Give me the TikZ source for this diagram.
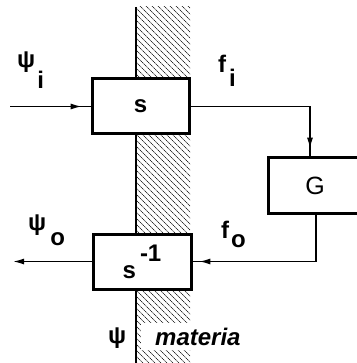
\documentclass[tikz,border=0pt]{standalone}
\usepackage{fontspec}
\setmainfont{Liberation Sans}
\usetikzlibrary{arrows.meta,decorations.markings,calc}
\begin{document}
\begin{tikzpicture}[x=1pt,y=-1pt,
  blk/.style={draw, line width=3pt, fill=white, minimum height=55pt, inner sep=0pt,
    font=\fontsize{24}{28}\selectfont\bfseries},
  wire/.style={line width=1.4pt},
  lbl/.style={anchor=base west, inner sep=0pt, font=\fontsize{24}{28}\selectfont\bfseries},
  hatchline/.style={line width=0.6pt, dash pattern=on 1.4pt off 0.6pt},
  tipstyle/.style={-{Latex[length=11pt,width=6pt]}},
  midarrow/.style={postaction={decorate}, decoration={markings,
    mark=at position #1 with {\arrow{Latex[length=11pt,width=6pt]}}}}
]
\useasboundingbox (0,0) rectangle (356,363);
% hatched wall (matter)
\begin{scope}
  \clip (136,7) rectangle (190,363);
  \foreach \k in {-400,-394,...,200} \draw[hatchline] (\k,0) -- ++(400,400);
\end{scope}
\draw[line width=1.5pt] (136,7) -- (136,363);
% blocks
\node[blk, minimum width=97pt] (S) at (140.5,106.5) {\raisebox{-2pt}{s}};
\node[blk, minimum width=98pt] (Si) at (142,261.5) {s\hspace{4pt}\raisebox{17pt}{-1}};
\node[blk, minimum width=94pt, font=\fontsize{25}{28}\selectfont] (G) at (315,185.5) {G};
% labels
\node[lbl] (psii) at (17,68) {ψ\hspace{2pt}\raisebox{-21pt}{i}};
\node[lbl] (fi) at (218,73) {f\hspace{3pt}\raisebox{-14pt}{i}};
\node[lbl] (fo) at (221,238) {f\hspace{2pt}\raisebox{-9pt}{o}};
\node[lbl] (psio) at (28,230) {ψ\hspace{4pt}\raisebox{-15pt}{o}};
\node[lbl] (psi) at (108,343) {ψ};
\node[lbl, font=\fontsize{24}{28}\selectfont\bfseries\itshape, fill=white,
  inner xsep=14pt, inner ysep=5pt] (mat) at (141,345) {materia};
% connectors
\coordinate (in) at (10,106.5);
\coordinate (out) at (13,261.5);
\draw[wire, midarrow=0.89] (in) -- (S.west);
\draw[wire, midarrow=0.954] (S.east) -| ($(G.north)+(-5,0)$);
\draw[wire, midarrow=0.96] ($(G.south)+(1,0)$) |- (Si.east);
\draw[wire, tipstyle] (Si.west) -- (out);
\end{tikzpicture}
\end{document}
